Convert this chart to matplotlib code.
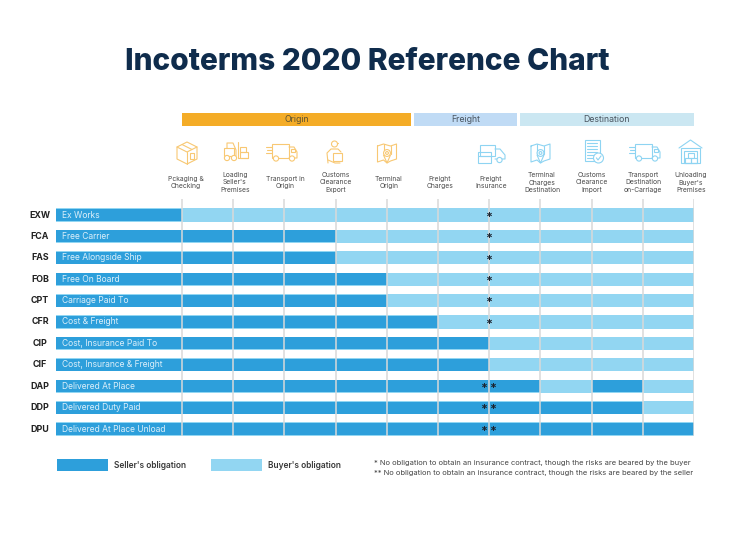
import matplotlib
matplotlib.use("Agg")
import matplotlib.pyplot as plt
from matplotlib.patches import Rectangle, Circle, Polygon

plt.rcParams['font.family'] = ['Inter', 'DejaVu Sans']

terms = ['EXW', 'FCA', 'FAS', 'FOB', 'CPT', 'CFR', 'CIP', 'CIF', 'DAP', 'DDP', 'DPU']
term_names = ['Ex Works', 'Free Carrier', 'Free Alongside Ship', 'Free On Board',
              'Carriage Paid To', 'Cost & Freight', 'Cost, Insurance Paid To',
              'Cost, Insurance & Freight', 'Delivered At Place',
              'Delivered Duty Paid', 'Delivered At Place Unload']
# 1 = seller, 0 = buyer, one entry per cell between the column lines
exw = [0, 0, 0, 0, 0, 0, 0, 0, 0, 0]
fca = [1, 1, 1, 0, 0, 0, 0, 0, 0, 0]
fas = [1, 1, 1, 0, 0, 0, 0, 0, 0, 0]
fob = [1, 1, 1, 1, 0, 0, 0, 0, 0, 0]
cpt = [1, 1, 1, 1, 0, 0, 0, 0, 0, 0]
cfr = [1, 1, 1, 1, 1, 0, 0, 0, 0, 0]
cip = [1, 1, 1, 1, 1, 1, 0, 0, 0, 0]
cif = [1, 1, 1, 1, 1, 1, 0, 0, 0, 0]
dap = [1, 1, 1, 1, 1, 1, 1, 0, 1, 0]
ddp = [1, 1, 1, 1, 1, 1, 1, 1, 1, 0]
dpu = [1, 1, 1, 1, 1, 1, 1, 1, 1, 1]
obligations = [exw, fca, fas, fob, cpt, cfr, cip, cif, dap, ddp, dpu]
# how many asterisks sit on the freight insurance line
insurance_marks = [1, 1, 1, 1, 1, 1, 0, 0, 2, 2, 2]

stages = ['Origin', 'Freight', 'Destination']
steps = ['Pckaging &\nChecking', "Loading\nSeller's\nPremises", 'Transport in\nOrigin',
         'Customs\nClearance\nExport', 'Terminal\nOrigin', 'Freight\nCharges',
         'Freight\nInsurance', 'Terminal\nCharges\nDestination',
         'Customs\nClearance\nImport', 'Transport\nDestination\non-Carriage',
         "Unloading\nBuyer's\nPremises"]
step_x = [186, 235, 285, 336, 389, 440, 491, 542, 592, 643, 691]

SELLER = '#2D9FDB'
BUYER = '#92D6F2'
GRID = '#D9D9D9'
ORANGE = '#F8C873'
BLUE = '#8ED4F2'
STAR = '#1c2430'

W, H = 740, 533
fig = plt.figure(figsize=(W / 100, H / 100), dpi=100)

# overlay in pixel units for the header, icons and legend
ov = fig.add_axes([0, 0, 1, 1], zorder=1)
ov.set_xlim(0, W)
ov.set_ylim(H, 0)
ov.axis('off')

# matrix: x in cells, y in rows
cell = 51.2
row = 21.4
left_px, right_px, top_px, bot_px = 56, 694, 199, 435.5
ax = fig.add_axes([left_px / W, 1 - bot_px / H, (right_px - left_px) / W, (bot_px - top_px) / H],
                  zorder=2)
ax.set_xlim(-(182 - left_px) / cell, 10)
ax.set_ylim((bot_px - 215) / row, -(215 - top_px) / row)
ax.axis('off')
ax.patch.set_alpha(0)

for i, cells in enumerate(obligations):
    ax.barh(i, 10 + 126 / cell, left=-126 / cell, height=0.62, color=BUYER, linewidth=0)
    ax.barh(i, 126 / cell, left=-126 / cell, height=0.56, color=SELLER, linewidth=0)
    for j, c in enumerate(cells):
        ax.barh(i, 1, left=j, height=0.56 if c else 0.62, color=SELLER if c else BUYER, linewidth=0)
    ax.text(-120 / cell, i, term_names[i], color='#DCEFFA', fontsize=6.1, va='center', ha='left')
    ov.text(40, 215 + i * row, terms[i], color='#222222', fontsize=6.4, fontweight='bold',
            va='center', ha='center')
    if insurance_marks[i] == 1:
        ax.text(6, i + 0.13, '*', color=STAR, fontsize=9, fontweight='bold', ha='center',
                va='center', zorder=6)
    elif insurance_marks[i] == 2:
        ax.text(5.9, i + 0.13, '*', color=STAR, fontsize=9, fontweight='bold', ha='center',
                va='center', zorder=6)
        ax.text(6.08, i + 0.13, '*', color=STAR, fontsize=9, fontweight='bold', ha='center',
                va='center', zorder=6)

ax.vlines(range(0, 11), (bot_px - 215) / row, -(215 - top_px) / row, color=GRID, lw=1.1, zorder=5)

ov.text(367, 62, 'Incoterms 2020 Reference Chart', color='#0F2C4C', fontsize=21.5,
        fontweight='heavy', ha='center', va='center')

# stage header bars
stage_px = [(182, 411, '#F4AC27', '#5C5130'), (414, 517, '#C0DBF5', '#4A5560'),
            (520, 694, '#CBE7F2', '#4A5560')]
for name, (x0, x1, col, tcol) in zip(stages, stage_px):
    ov.add_patch(Rectangle((x0, 113), x1 - x0, 12.5, color=col, lw=0))
    ov.text((x0 + x1) / 2, 119.5, name, color=tcol, fontsize=6.3, ha='center', va='center')

for x, label in zip(step_x, steps):
    ov.text(x, 182.5, label, color='#4A4A4A', fontsize=4.85, ha='center', va='center',
            linespacing=1.3)


# icons, thin outlines only
def line(pts, col, lw=0.8):
    xs, ys = zip(*pts)
    ov.plot(xs, ys, color=col, lw=lw, solid_capstyle='round')


def rect(x, y, w, h, col, lw=0.8):
    ov.add_patch(Rectangle((x, y), w, h, fill=False, ec=col, lw=lw))


def circ(x, y, r, col, lw=0.8):
    ov.add_patch(Circle((x, y), r, fill=True, fc='white', ec=col, lw=lw, zorder=3))


def truck(x, col):
    rect(x + 6, 144, 17, 14, col)
    line([(x + 23, 147), (x + 28, 147), (x + 31, 152), (x + 31, 158), (x + 23, 158)], col)
    rect(x + 25, 149, 3.5, 2.5, col)
    for y, x0, x1 in [(147, 0, 6), (150, 1, 6), (153, 0, 6)]:
        line([(x + x0, y), (x + x1, y)], col)
    circ(x + 10, 158.5, 2.6, col)
    circ(x + 26, 158.5, 2.6, col)


def map_icon(x, col):
    line([(x, 146), (x + 6, 144), (x + 13, 146), (x + 19, 144), (x + 19, 159), (x + 13, 161),
          (x + 9.5, 163), (x + 6, 160), (x, 162), (x, 146)], col)
    line([(x + 6, 144), (x + 6, 154)], col)
    line([(x + 13, 146), (x + 13, 154)], col)
    ov.add_patch(Polygon([(x + 6, 155), (x + 9.5, 163), (x + 13, 155)], fill=False, ec=col, lw=0.8))
    circ(x + 9.5, 153, 3.4, col)
    circ(x + 9.5, 153, 1.4, col)


# package
ov.add_patch(Polygon([(177, 147), (187, 142), (197, 147), (197, 159), (187, 164), (177, 159)],
                     fill=False, ec=ORANGE, lw=0.8))
line([(177, 147), (187, 152), (197, 147)], ORANGE)
line([(187, 152), (187, 164)], ORANGE)
line([(182, 144.5), (192, 149.5)], ORANGE)
rect(190, 153, 4, 6, ORANGE)
# forklift
rect(224, 148, 10, 8, ORANGE)
line([(227, 148), (227, 143), (233, 143), (236, 150), (236, 156)], ORANGE)
line([(238, 142), (238, 158), (248, 158)], ORANGE)
rect(240, 147, 6, 5, ORANGE)
rect(239.5, 152, 8, 6, ORANGE)
circ(227, 158, 2.6, ORANGE)
circ(234, 158, 2.6, ORANGE)
truck(266, ORANGE)
# customs officer
circ(334.5, 144, 3, ORANGE)
line([(331, 142.5), (338, 142.5)], ORANGE)
line([(328, 163), (327, 153), (331, 149), (338, 149), (341, 152)], ORANGE)
rect(333, 153, 9, 8, ORANGE)
line([(328, 160), (335, 163), (340, 163)], ORANGE)
map_icon(377.5, ORANGE)
# boxed freight truck
rect(480, 145, 15, 11, BLUE)
line([(495, 149), (500, 149), (505, 155), (505, 159), (495, 159)], BLUE)
rect(477.5, 152, 13, 11, BLUE)
line([(477.5, 156), (490.5, 156)], BLUE)
circ(499.5, 160, 2.6, BLUE)
map_icon(531, BLUE)
# document
rect(584.5, 140, 15, 21, BLUE)
for y in [143, 146, 149, 152, 155, 158]:
    line([(587, y), (597, y)], BLUE)
circ(598.5, 158, 5, BLUE)
ov.plot([596.5, 598, 601], [158, 160, 156], color=BLUE, lw=0.8, zorder=4)
truck(629, BLUE)
# warehouse
line([(679, 148), (690.5, 140), (702, 148)], BLUE)
rect(681, 148, 19, 15, BLUE)
rect(684, 151, 13, 12, BLUE)
rect(687.5, 152.5, 6, 5, BLUE)
rect(684.5, 157.5, 6, 5.5, BLUE)
rect(690.5, 157.5, 6, 5.5, BLUE)

# legend
ov.add_patch(Rectangle((57, 459), 51, 12, color=SELLER, lw=0))
ov.text(114, 465, "Seller's obligation", color='#3A3A3A', fontsize=6.0, fontweight='semibold', va='center')
ov.add_patch(Rectangle((211, 459), 51, 12, color=BUYER, lw=0))
ov.text(268, 465, "Buyer's obligation", color='#3A3A3A', fontsize=6.0, fontweight='semibold', va='center')

ov.text(374, 463, '* No obligation to obtain an insurance contract, though the risks are beared by the buyer',
        color='#444444', fontsize=5.43, va='center')
ov.text(374, 473, '** No obligation to obtain an insurance contract, though the risks are beared by the seller',
        color='#444444', fontsize=5.43, va='center')

fig.savefig('out.png', dpi=100)
